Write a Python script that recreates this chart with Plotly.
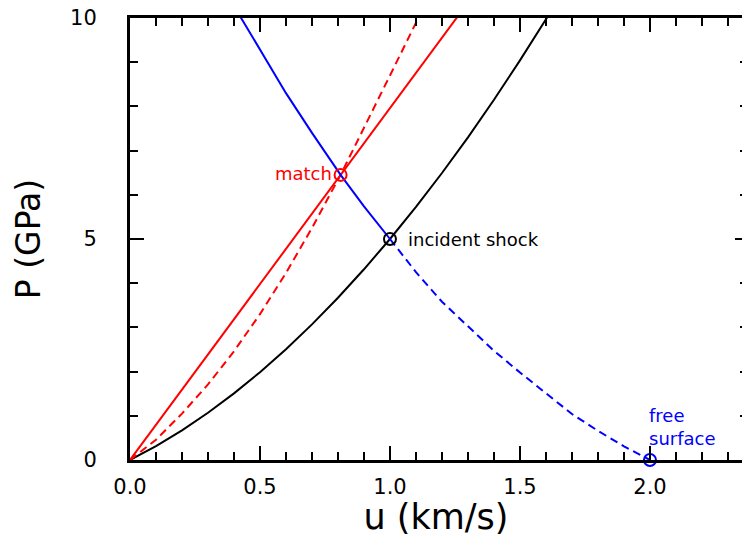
import plotly.graph_objects as go

# Incident shock Hugoniot (black)
u_hug = [0.0, 0.1, 0.2, 0.3, 0.4, 0.5, 0.6, 0.7, 0.8, 0.9, 1.0, 1.1, 1.2, 1.3, 1.4, 1.5, 1.6, 1.65]
p_hug = [0.0, 0.315, 0.671, 1.069, 1.507, 1.987, 2.507, 3.068, 3.672, 4.315, 5.0, 5.726, 6.493, 7.301, 8.150, 9.041, 9.972, 10.45]

# Reflected curve above incident state (blue solid)
u_rel_up = [0.40, 0.427, 0.5, 0.6, 0.7, 0.81, 0.9, 1.0]
p_rel_up = [10.27, 10.0, 9.28, 8.30, 7.40, 6.45, 5.74, 5.0]

# Release isentrope to free surface (blue dashed)
u_rel_dn = [1.0, 1.1, 1.2, 1.3, 1.4, 1.5, 1.6, 1.7, 1.8, 1.9, 2.0]
p_rel_dn = [5.0, 4.25, 3.58, 3.02, 2.47, 1.98, 1.50, 1.04, 0.66, 0.31, 0.0]

# Window Rayleigh line (red solid)
u_win = [0.0, 0.81, 1.256, 1.30]
p_win = [0.0, 6.45, 10.0, 10.35]

# Window Hugoniot (red dashed)
u_win_h = [0.0, 0.1, 0.2, 0.3, 0.4, 0.5, 0.6, 0.7, 0.81, 0.9, 1.0, 1.109, 1.14]
p_win_h = [0.0, 0.46, 1.05, 1.71, 2.46, 3.30, 4.23, 5.25, 6.45, 7.50, 8.70, 10.0, 10.37]

# Marked states
u_match, p_match = [0.81], [6.45]
u_inc, p_inc = [1.0], [5.0]
u_free, p_free = [2.0], [0.0]

x_ticks = [0.0, 0.5, 1.0, 1.5, 2.0]
x_tick_text = ["0.0", "0.5", "1.0", "1.5", "2.0"]
y_ticks = [0, 5, 10]
y_tick_text = ["0", "5", "10"]

RED = "#ff0000"
BLUE = "#0000ff"
BLACK = "#000000"
FONT = "DejaVu Sans"

fig = go.Figure()
fig.add_trace(go.Scatter(x=u_hug, y=p_hug, mode="lines", line=dict(color=BLACK, width=2)))
fig.add_trace(go.Scatter(x=u_win, y=p_win, mode="lines", line=dict(color=RED, width=2)))
fig.add_trace(go.Scatter(x=u_win_h, y=p_win_h, mode="lines", line=dict(color=RED, width=2, dash="8px,5px")))
fig.add_trace(go.Scatter(x=u_rel_up, y=p_rel_up, mode="lines", line=dict(color=BLUE, width=2)))
fig.add_trace(go.Scatter(x=u_rel_dn, y=p_rel_dn, mode="lines", line=dict(color=BLUE, width=2, dash="8px,5px")))

for ux, py, col in [(u_match, p_match, RED), (u_inc, p_inc, BLACK), (u_free, p_free, BLUE)]:
    fig.add_trace(go.Scatter(x=ux, y=py, mode="markers", cliponaxis=False,
                             marker=dict(symbol="circle-open", size=12, color=col, line=dict(width=2, color=col))))

# invisible trace for the right-hand tick axis
fig.add_trace(go.Scatter(x=[None], y=[None], yaxis="y2", showlegend=False))

fig.add_annotation(x=u_match[0], y=p_match[0], text="match", showarrow=False, xanchor="right", yanchor="middle",
                   xshift=-7, yshift=1, font=dict(family=FONT, size=18, color=RED))
fig.add_annotation(x=u_inc[0], y=p_inc[0], text="incident shock", showarrow=False, xanchor="left", yanchor="middle",
                   xshift=16, yshift=0, font=dict(family=FONT, size=18, color=BLACK))
fig.add_annotation(x=u_free[0], y=p_free[0], text="free<br>surface", showarrow=False, xanchor="left", yanchor="bottom",
                   align="left", xshift=-3, yshift=9, font=dict(family=FONT, size=18, color=BLUE))

axis_common = dict(ticks="inside", ticklen=14, tickwidth=2, tickcolor=BLACK, showline=True, linewidth=3,
                   linecolor=BLACK, showgrid=False, zeroline=False,
                   tickfont=dict(family=FONT, size=21, color=BLACK))

fig.update_layout(
    width=742, height=537, autosize=False,
    margin=dict(l=130, r=0, t=18, b=77),
    paper_bgcolor="white", plot_bgcolor="white",
    showlegend=False,
    xaxis=dict(range=[0, 2.354], tickvals=x_ticks, ticktext=x_tick_text, mirror="ticks",
               minor=dict(dtick=0.1, tick0=0, ticks="inside", ticklen=8, tickwidth=2, tickcolor=BLACK),
               ticklabelstandoff=6,
               title=dict(text="u (km/s)", font=dict(family=FONT, size=35, color=BLACK), standoff=2),
               **axis_common),
    yaxis=dict(range=[0, 10], tickvals=y_ticks, ticktext=y_tick_text,
               minor=dict(dtick=1, tick0=0, ticks="inside", ticklen=8, tickwidth=2, tickcolor=BLACK),
               ticklabelstandoff=26,
               title=dict(text="P (GPa)", font=dict(family=FONT, size=33, color=BLACK), standoff=20),
               **axis_common),
    yaxis2=dict(range=[0, 10], overlaying="y", side="right", anchor="x", tickvals=y_ticks,
                showticklabels=False, ticks="inside", ticklen=7, tickwidth=2, tickcolor=BLACK,
                minor=dict(dtick=1, tick0=0, ticks="inside", ticklen=2, tickwidth=2, tickcolor=BLACK),
                showline=False, showgrid=False, zeroline=False),
)

fig.write_html("out.html")
